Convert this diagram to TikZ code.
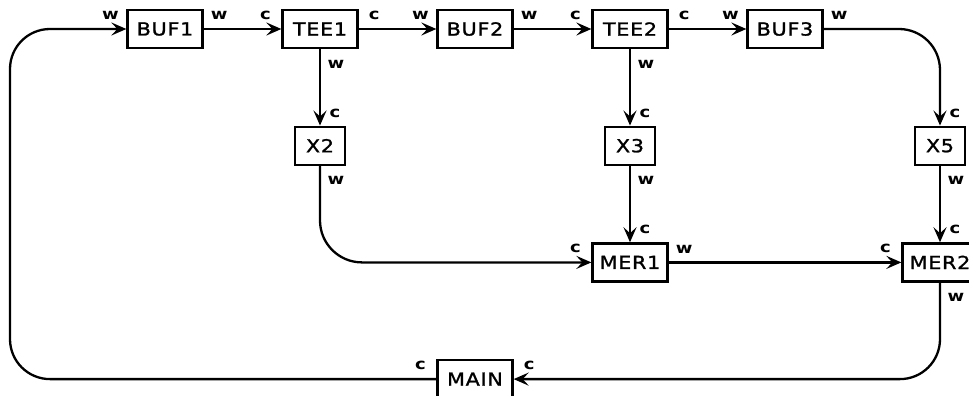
\documentclass[tikz,border=0pt]{standalone}
\usepackage{fontspec}
\setmainfont{DejaVu Sans}
\newfontfamily\boxfont[LetterSpace=4, FakeStretch=1.15, FakeBold=1.3]{DejaVu Sans}
\newfontfamily\portfont[FakeStretch=1.2]{DejaVu Sans Bold}
\usetikzlibrary{arrows.meta}

\begin{document}
\begin{tikzpicture}[x=155pt, y=-116.7pt, line width=2.3pt]
\tikzstyle{block}=[rectangle, draw, line width=2.3pt, minimum width=75pt, minimum height=38pt, inner sep=0pt, font=\boxfont\fontsize{18}{18}\selectfont]
\tikzstyle{blocks}=[block, minimum width=50pt]
\tikzstyle{port}=[inner sep=0pt, font=\portfont\fontsize{15}{15}\selectfont]
\tikzstyle{portl}=[port, shift={(-16pt,13.5pt)}]
\tikzstyle{portr}=[port, shift={(15.5pt,13.5pt)}]
\tikzstyle{portt}=[port, shift={(15pt,12.5pt)}]
\tikzstyle{portb}=[port, shift={(16pt,-15pt)}]
\tikzstyle{drawstyle}=[line width=2.3pt, -{Stealth[length=15pt,width=13pt,inset=6pt]}]

\useasboundingbox (-165pt,29pt) rectangle (804pt,-367pt);
\clip (-165pt,29pt) rectangle (804pt,-367pt);

% top row
\node[block] (buf1) at (0,0) {BUF1};
\node[block] (tee1) at (1,0) {TEE1};
\node[block] (buf2) at (2,0) {BUF2};
\node[block] (tee2) at (3,0) {TEE2};
\node[block] (buf3) at (4,0) {BUF3};
% multipliers
\node[blocks] (x2) at (1,1) {X2};
\node[blocks] (x3) at (3,1) {X3};
\node[blocks] (x5) at (5,1) {X5};
% mergers
\node[block] (mer1) at (3,2) {MER1};
\node[block] (mer2) at (5,2) {MER2};
\node[block] (main) at (2,3) {MAIN};
\coordinate (rail) at (-1,0);

% port labels
\node[portl] (buf1l) at (buf1.west) {w};
\node[portr] (buf1r) at (buf1.east) {w};
\node[portl] (tee1l) at (tee1.west) {c};
\node[portr] (tee1r) at (tee1.east) {c};
\node[portb] (tee1b) at (tee1.south) {w};
\node[portl] (buf2l) at (buf2.west) {w};
\node[portr] (buf2r) at (buf2.east) {w};
\node[portl] (tee2l) at (tee2.west) {c};
\node[portr] (tee2r) at (tee2.east) {c};
\node[portb] (tee2b) at (tee2.south) {w};
\node[portl] (buf3l) at (buf3.west) {w};
\node[portr] (buf3r) at (buf3.east) {w};
\node[portt] (x2t) at (x2.north) {c};
\node[portb] (x2b) at (x2.south) {w};
\node[portt] (x3t) at (x3.north) {c};
\node[portb] (x3b) at (x3.south) {w};
\node[portt] (x5t) at (x5.north) {c};
\node[portb] (x5b) at (x5.south) {w};
\node[portl] (mer1l) at (mer1.west) {c};
\node[portr] (mer1r) at (mer1.east) {w};
\node[portt] (mer1t) at (mer1.north) {c};
\node[portl] (mer2l) at (mer2.west) {c};
\node[portt] (mer2t) at (mer2.north) {c};
\node[portb] (mer2b) at (mer2.south) {w};
\node[portl] (mainl) at (main.west) {c};
\node[portr] (mainr) at (main.east) {c};

% connections
\draw[drawstyle] (buf1) -- (tee1);
\draw[drawstyle] (tee1) -- (buf2);
\draw[drawstyle] (buf2) -- (tee2);
\draw[drawstyle] (tee2) -- (buf3);
\draw[drawstyle] (tee1) -- (x2);
\draw[drawstyle] (tee2) -- (x3);
\draw[drawstyle] (x3) -- (mer1);
\draw[drawstyle] (x5) -- (mer2);
\draw[drawstyle] (mer1) -- (mer2);
\draw[drawstyle, rounded corners=41pt] (buf3.east) -| (x5.north);
\draw[drawstyle, rounded corners=42pt] (x2.south) |- (mer1.west);
\draw[drawstyle, rounded corners=40pt] (mer2.south) |- (main.east);
\draw[drawstyle, rounded corners=40pt] (main.west) -| (rail) -- (buf1.west);
\end{tikzpicture}
\end{document}
